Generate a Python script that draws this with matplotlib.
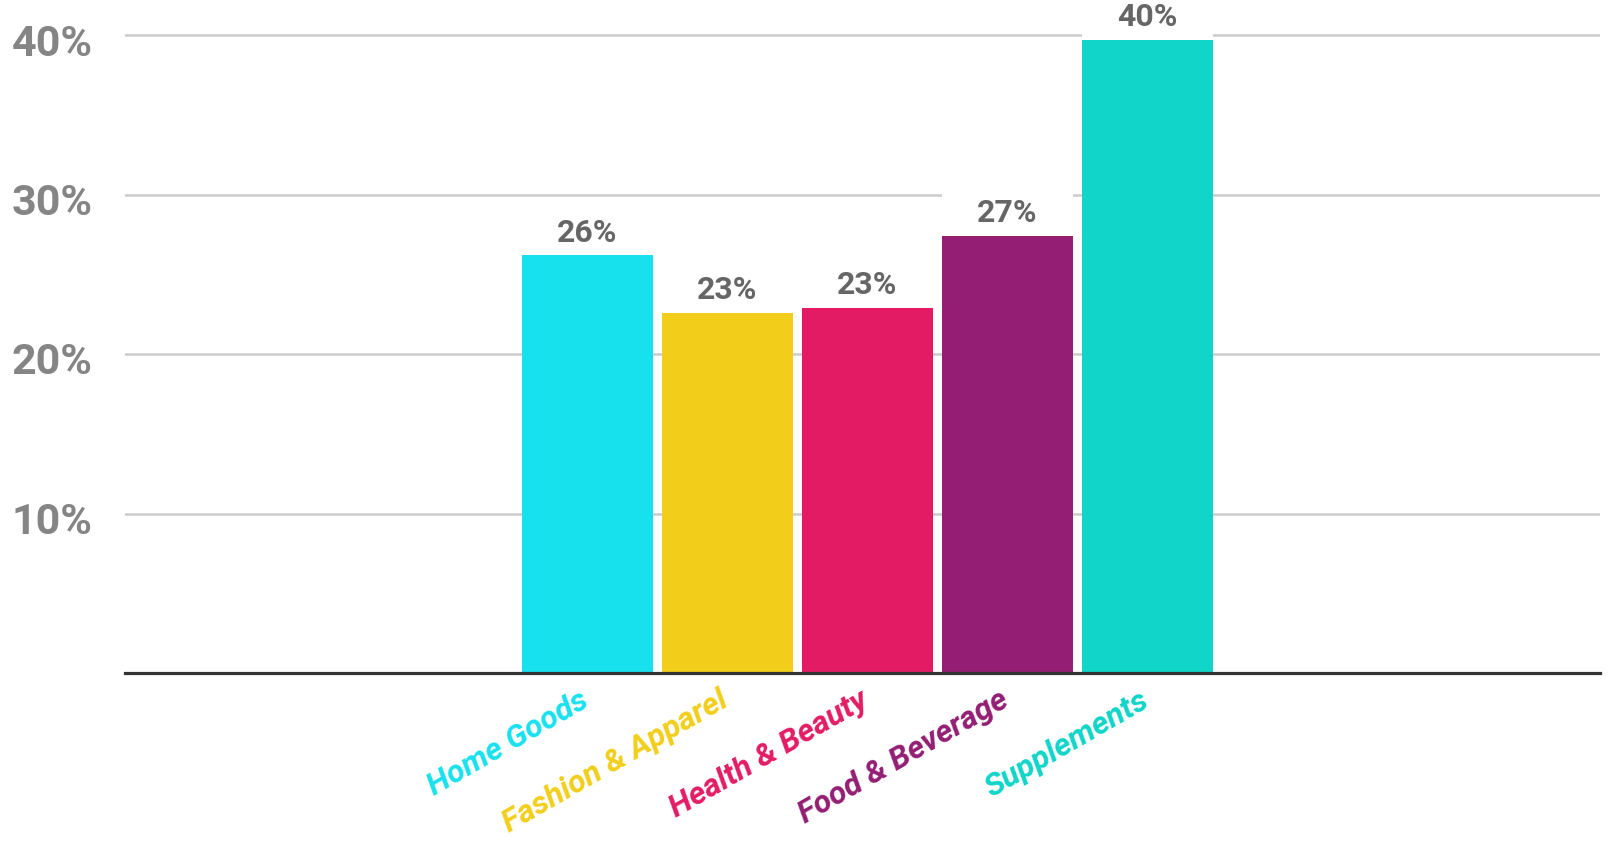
import matplotlib
matplotlib.use('Agg')
import matplotlib.pyplot as plt
import matplotlib.transforms as mtransforms

plt.rcParams['font.family'] = ['Roboto', 'DejaVu Sans']

# 카테고리별 비율
categories = ['Home Goods', 'Fashion & Apparel', 'Health & Beauty', 'Food & Beverage', 'Supplements']
values = [26.2, 22.6, 22.9, 27.4, 39.7]
colors = ['#18E1EE', '#F2CE1B', '#E31B65', '#931E73', '#10D5C8']
y_ticks = [10, 20, 30, 40]
y_tick_labels = ['10%', '20%', '30%', '40%']

fig = plt.figure(figsize=(16.14, 8.44), dpi=100)
ax = fig.add_axes([0.0774, 0.2026, 0.9139, 0.7743])

x = list(range(len(categories)))
bar_w = 0.936

ax.set_axisbelow(True)
ax.yaxis.grid(True, color='#CCCCCC', linewidth=1.8)

ax.bar(x, values, width=bar_w, color=colors, zorder=2)
# 라벨 뒤 흰 배경 (그리드 가림)
ax.bar(x, [3.0] * len(x), bottom=values, width=bar_w, color='white', zorder=1.5, clip_on=False)

for xi, v in zip(x, values):
    ax.annotate(f'{v:.0f}%', (xi, v), xytext=(0, 10), textcoords='offset points',
                ha='center', va='baseline', fontsize=23, fontweight='bold',
                color='#666666', zorder=3, annotation_clip=False)

ax.set_xlim(-3.30, 7.23)
ax.set_ylim(0, 41)

ax.set_yticks(y_ticks)
ax.set_yticklabels(y_tick_labels, fontsize=31, fontweight='bold', color='#858585')
ax.tick_params(axis='y', length=0, pad=23)
shift_y = mtransforms.ScaledTranslation(0, -3 / 72, fig.dpi_scale_trans)
for lbl in ax.get_yticklabels():
    lbl.set_transform(lbl.get_transform() + shift_y)

ax.set_xticks(x)
ax.set_xticklabels(categories, rotation=30, ha='right', rotation_mode='anchor',
                   fontsize=23, fontweight='bold', fontstyle='italic')
ax.tick_params(axis='x', length=0, pad=9)
shift_x = mtransforms.ScaledTranslation(-6 / 72, 0, fig.dpi_scale_trans)
for lbl, c in zip(ax.get_xticklabels(), colors):
    lbl.set_color(c)
    lbl.set_transform(lbl.get_transform() + shift_x)

for side in ['top', 'right', 'left']:
    ax.spines[side].set_visible(False)
ax.spines['bottom'].set_color('#333333')
ax.spines['bottom'].set_linewidth(2.3)
ax.spines['bottom'].set_zorder(4)

fig.savefig('out.png', dpi=100, facecolor='white')
